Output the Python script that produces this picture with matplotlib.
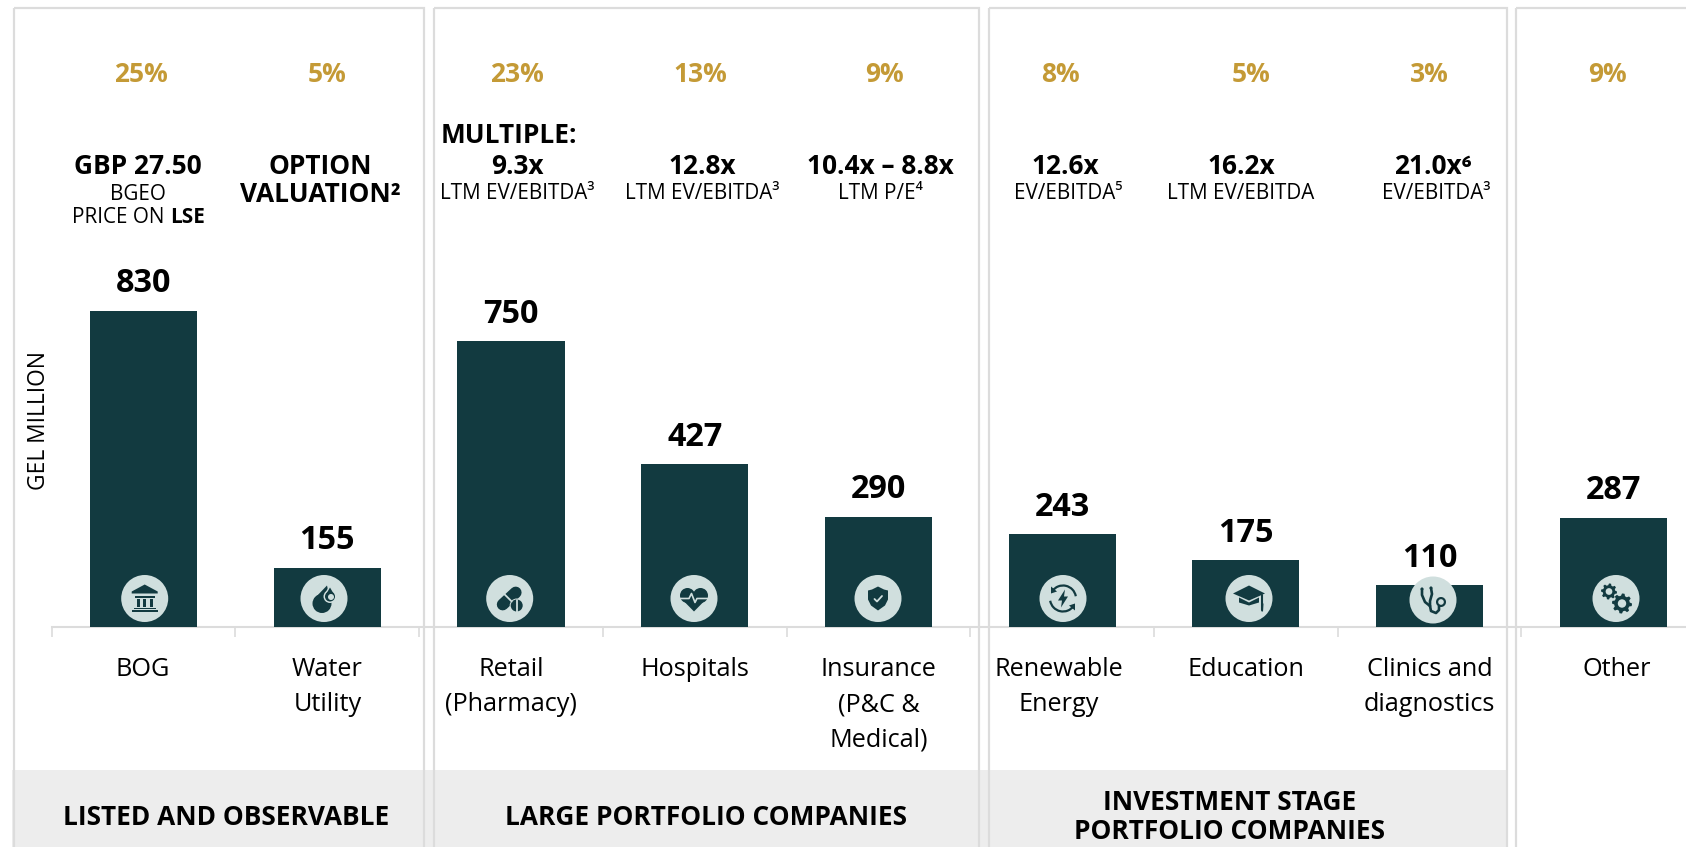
import numpy as np
import matplotlib
matplotlib.use('Agg')
import matplotlib.pyplot as plt
from matplotlib.patches import Rectangle, Circle, Polygon, Arc, Wedge
from matplotlib.transforms import Affine2D

# Chart data
categories = ['BOG', 'Water\nUtility', 'Retail\n(Pharmacy)', 'Hospitals', 'Insurance\n(P&C &\nMedical)',
              'Renewable\nEnergy', 'Education', 'Clinics and\ndiagnostics', 'Other']
values = [830, 155, 750, 427, 290, 243, 175, 110, 287]
shares = ['25%', '5%', '23%', '13%', '9%', '8%', '5%', '3%', '9%']
multiples = ['GBP 27.50', 'OPTION', '9.3x', '12.8x', '10.4x – 8.8x', '12.6x', '16.2x', '21.0x⁶']
multiple_notes = ['BGEO', 'VALUATION²', 'LTM EV/EBITDA³', 'LTM EV/EBITDA³', 'LTM P/E⁴',
                  'EV/EBITDA⁵', 'LTM EV/EBITDA', 'EV/EBITDA³']
groups = ['LISTED AND OBSERVABLE', 'LARGE PORTFOLIO COMPANIES', 'INVESTMENT STAGE\nPORTFOLIO COMPANIES']

W, H = 1686, 847
DARK = '#123a40'
LIGHT = '#d0dfde'
GOLD = '#c49a36'
GREY = '#dcdcdc'
BAND = '#ededed'
BIG = 18.9
SMALL = 14.9

plt.rcParams['font.family'] = ['Open Sans', 'DejaVu Sans']

fig = plt.figure(figsize=(W / 100, H / 100), dpi=100)
ax = fig.add_axes([0, 0, 1, 1])

# pixel coordinates, y pointing down, same as the picture
px = Affine2D().scale(1, -1).translate(0, H)

# bars go on a full-figure axes: 183.7 px per category, 0.381 px per GEL m
x0, step, baseline, scale = 143.6, 183.7, 627, 0.381
ax.set_xlim(-x0 / step, (W - x0) / step)
ax.set_ylim((baseline - H) / scale, baseline / scale)
ax.patch.set_visible(False)

x = np.arange(len(values))
ax.bar(x, values, width=107 / step, color=DARK, zorder=3)

for s in ['top', 'left', 'right']:
    ax.spines[s].set_visible(False)
ax.spines['bottom'].set_position(('data', 0))
ax.spines['bottom'].set_color(GREY)
ax.spines['bottom'].set_linewidth(1.5)
ax.spines['bottom'].set_bounds(-0.5, ax.get_xlim()[1])
ax.set_xticks(x - 0.5)
ax.set_xticklabels([])
ax.tick_params(axis='x', length=7, width=1.2, color=GREY, direction='out')
ax.set_yticks([])


def text(xp, yp, s, size, weight='normal', color='black', **kw):
    kw.setdefault('ha', 'center')
    return ax.text(xp, yp + 2.5, s, transform=px, fontsize=size, fontweight=weight, color=color,
                   va='center', zorder=6, **kw)


def add(p):
    p.set_transform(px)
    p.set_zorder(5)
    ax.add_patch(p)


def poly(points, xc, yc, color=DARK):
    add(Polygon([(xc + a, yc + b) for a, b in points], closed=True, fc=color, ec='none'))


def circ(xc, yc, r, color=DARK):
    add(Circle((xc, yc), r, fc=color, ec='none'))


def line(points, xc, yc, color=DARK, lw=1.5):
    ax.plot([xc + a for a, b in points], [yc + b for a, b in points], color=color, lw=lw,
            transform=px, zorder=5, solid_capstyle='round')


# panels and the grey band under them
ax.add_patch(Rectangle((12, 770), 1494, 80, transform=px, fc=BAND, ec='none', zorder=0))
for left, right in [(13.5, 424), (434, 978.5), (988.5, 1506.5), (1516, 1720)]:
    ax.add_patch(Rectangle((left, 7.5), right - left, 860, transform=px, fc='none', ec=GREY, lw=1.6, zorder=1))

# share of portfolio
share_x = [141.4, 327.4, 516.7, 700.5, 884.4, 1060.7, 1251, 1429, 1607]
for xp, s in zip(share_x, shares):
    text(xp, 72, s, 19, 'bold', GOLD)

# valuation lines
mult_x = [137.6, 320, 517, 702, 880.6, 1065, 1241, 1433]
note_x = [137.6, 320, 517.7, 702, 880.6, 1068, 1241, 1436]
for i in range(len(multiples)):
    text(mult_x[i], 164, multiples[i], BIG, 'bold')
    if i == 1:
        text(note_x[i], 192, multiple_notes[i], BIG, 'bold')
    elif i == 0:
        text(note_x[i], 192, multiple_notes[i], SMALL)
    else:
        text(note_x[i], 191, multiple_notes[i], SMALL)
text(508.6, 133, 'MULTIPLE:', BIG, 'bold')
text(170, 215, 'PRICE ON ', SMALL, ha='right')
text(170, 215, 'LSE', SMALL, 'bold', ha='left')

# values above the bars
for i, v in enumerate(values):
    ax.annotate(str(v), (i, v), xytext=(0, 27), textcoords='offset pixels', ha='center', va='center',
                fontsize=23.3, fontweight='bold', color='black', zorder=6)

# category labels, line by line
label_x = [143, 327.4, 511, 694.6, 878.5, 1059, 1246, 1429.6, 1617]
for xp, lab in zip(label_x, categories):
    for j, part in enumerate(lab.split('\n')):
        text(xp, 666.5 + j * 35.5, part, 18.2)

text(39, 418, 'GEL MILLION', 16.4, rotation=90)

# band headings
text(226, 814.5, groups[0], BIG, 'bold')
text(706, 814.5, groups[1], BIG, 'bold')
head = groups[2].split('\n')
text(1230, 800, head[0], BIG, 'bold')
text(1230, 828.5, head[1], BIG, 'bold')

# icons, drawn around each circle centre
R = 23.5
icon_x = [144.7, 324, 509.7, 694, 878, 1063, 1249, 1433, 1616]
for i, xp in enumerate(icon_x):
    circ(xp, 600 if i == 7 else 598.5, R, LIGHT)

# bank
c, d = icon_x[0], 598.5
poly([(0, -14), (13, -7), (13, -5), (-13, -5), (-13, -7)], c, d)
poly([(-10, -3), (10, -3), (10, -1), (-10, -1)], c, d)
for a in (-8, -1.5, 5):
    poly([(a, 0), (a + 3.2, 0), (a + 3.2, 8), (a, 8)], c, d)
poly([(-11, 9), (11, 9), (11, 10.5), (-11, 10.5)], c, d)
poly([(-13, 11), (13, 11), (13, 13), (-13, 13)], c, d)

# water drops
c, d = icon_x[1], 598.5
circ(c - 2, d + 5, 9.5)
poly([(-10.5, 1), (3, -13), (6.5, 2)], c, d)
circ(c + 6, d - 2, 6.5, LIGHT)
poly([(1, -5), (6, -14), (11, -5)], c, d, LIGHT)
circ(c + 6, d - 2, 5)
poly([(2.2, -4.5), (6, -11), (9.8, -4.5)], c, d)
circ(c + 7, d - 1.5, 3, LIGHT)

# pills
c, d = icon_x[2], 598.5
line([(-7, 6), (6, -6)], c, d, lw=8.5)
circ(c + 7, d + 7, 7, LIGHT)
circ(c + 7, d + 7, 6)
line([(-6, -5), (2, 3)], c, d, LIGHT, 1.3)
line([(7, 1), (7, 13)], c, d, LIGHT, 1.3)

# heart with pulse
c, d = icon_x[3], 598.5
circ(c - 6.5, d - 3, 7.5)
circ(c + 6.5, d - 3, 7.5)
poly([(-13.8, -1), (13.8, -1), (0, 13)], c, d)
line([(-14, 0), (-5, 0), (-2.5, -5), (1, 4), (3, 0), (14, 0)], c, d, LIGHT, 1.2)

# shield with tick
c, d = icon_x[4], 598.5
poly([(0, -12), (6, -9), (10, -8), (10, 1), (7, 7), (0, 12), (-7, 7), (-10, 1), (-10, -8), (-6, -9)], c, d)
line([(-3.5, 0.5), (-1, 3), (4, -2.5)], c, d, LIGHT, 1.3)

# renewable arrows with bolt
c, d = icon_x[5], 598.5
for t1, t2 in [(35, 170), (215, 350)]:
    add(Arc((c, d), 26, 26, angle=0, theta1=t1, theta2=t2, ec=DARK, lw=1.6))
poly([(-12, -12), (-12, -5), (-6, -7)], c, d)
poly([(12, 12), (12, 5), (6, 7)], c, d)
poly([(2, -9), (-5, 2), (-1, 2), (-2, 9), (5, -2), (1, -2)], c, d)

# graduation cap
c, d = icon_x[6], 598.5
poly([(0, -13), (16, -5), (0, 2), (-16, -5)], c, d)
poly([(-10, -1), (0, 4), (10, -1), (10, 4), (0, 7), (-10, 4)], c, d)
line([(13, -4), (13, 11)], c, d, lw=1.5)
poly([(12, 5), (14.5, 5), (14, 13), (12.5, 13)], c, d)

# stethoscope
c, d = icon_x[7], 600
line([(-11, -11), (-11, -5), (-8, 2), (-3, 6)], c, d, lw=1.9)
line([(-2, -12), (-1, -6), (-3, 1), (-3, 6)], c, d, lw=1.9)
line([(-3, 6), (-2, 11), (3, 13), (6, 10), (6, 6)], c, d, lw=1.9)
add(Wedge((c + 8, d + 2), 5, 0, 360, width=2.2, fc=DARK, ec='none'))
circ(c - 11, d - 11, 1.5)
circ(c - 2, d - 12, 1.5)


# gears
def gear(xc, yc, r):
    ang = np.linspace(0, 2 * np.pi, 48, endpoint=False)
    rad = np.where(np.arange(48) % 6 < 3, r, r * 0.78)
    poly(np.column_stack([rad * np.cos(ang), rad * np.sin(ang)]), xc, yc)
    circ(xc, yc, r * 0.42, LIGHT)


c, d = icon_x[8], 598.5
gear(c - 7, d - 7, 8)
gear(c + 6, d + 5, 10)

ax.set_xlim(-x0 / step, (W - x0) / step)
ax.set_ylim((baseline - H) / scale, baseline / scale)

fig.savefig('out.png', dpi=100)
